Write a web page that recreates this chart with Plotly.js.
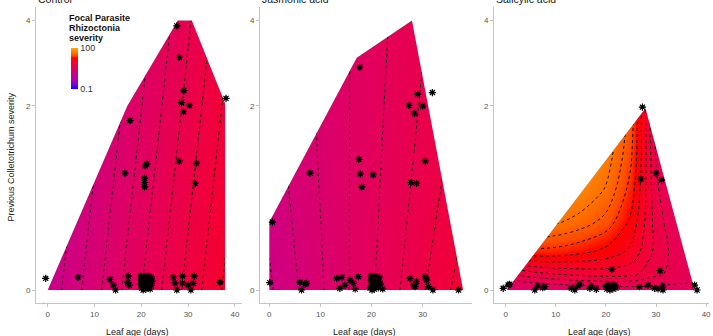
<!DOCTYPE html>
<html>
<head>
<meta charset="utf-8">
<script src="https://cdn.plot.ly/plotly-3.0.1.min.js"></script>
<style>
  html, body { margin: 0; padding: 0; background: #fff; }
  #chart { width: 713px; height: 336px; }
</style>
</head>
<body>
<div id="chart"></div>
<script>
// ---- Facets and tick labels ----
const panelNames = ['Control', 'Jasmonic acid', 'Salicylic acid'];
const xTicks = [0, 10, 20, 30, 40];
const yTicks = [0, 2, 4];
const sevTicks = [0.1, 100];

// ---- Predicted focal severity (log10) over leaf age x previous severity ----
const ctrlAge = [0, 10, 20, 30, 40];
const ctrlPrev = [0, 2, 4];
const ctrlLogSev = [
  [0.130, 0.364, 0.598, 0.832, 1.066],
  [0.029, 0.263, 0.497, 0.731, 0.965],
  [-0.017, 0.217, 0.451, 0.685, 0.919]
];

const jaAge = [0, 10, 20, 30, 40];
const jaPrev = [0, 1, 2, 4];
const jaLogSev = [
  [0.184, 0.386, 0.588, 0.790, 0.992],
  [0.242, 0.407, 0.571, 0.735, 0.900],
  [0.267, 0.415, 0.564, 0.712, 0.860],
  [0.293, 0.424, 0.556, 0.688, 0.820]
];

const saAge = [0, 5, 10, 15, 20, 25, 30, 35, 40];
const saPrev = [0, 0.1, 0.25, 0.5, 0.8, 1.2, 1.6, 2.0, 2.5];
const saLogSev = [
  [0.40, 0.42, 0.45, 0.48, 0.50, 0.52, 0.54, 0.56, 0.58],
  [0.72, 0.80, 0.86, 0.90, 0.92, 0.90, 0.76, 0.66, 0.62],
  [1.20, 1.32, 1.32, 1.27, 1.20, 1.08, 0.82, 0.64, 0.58],
  [1.52, 1.68, 1.66, 1.58, 1.46, 1.22, 0.80, 0.58, 0.52],
  [1.66, 1.78, 1.80, 1.76, 1.62, 1.32, 0.76, 0.52, 0.46],
  [1.72, 1.80, 1.80, 1.80, 1.72, 1.40, 0.72, 0.48, 0.42],
  [1.74, 1.80, 1.80, 1.80, 1.76, 1.44, 0.68, 0.45, 0.40],
  [1.74, 1.80, 1.80, 1.80, 1.78, 1.46, 0.64, 0.43, 0.38],
  [1.74, 1.80, 1.80, 1.80, 1.78, 1.46, 0.64, 0.43, 0.38]
];

// ---- Outline of the region covered by the predictions ----
const ctrlHullAge = [0, 17, 27.8, 30.8, 37.9, 37.9];
const ctrlHullPrev = [0, 2.0, 4.0, 4.0, 2.05, 0];
const jaHullAge = [0, 0, 17.1, 27.9, 37.9];
const jaHullPrev = [0, 0.5, 3.0, 4.0, 0];
const saHullAge = [0.2, 27.9, 37.7];
const saHullPrev = [0, 1.96, 0];

// ---- Observed leaves ----
const ctrlObsAge = [27.6, 28.1, 29.1, 28.6, 30.3, 29.0, 38.1, 17.6, 21.2, 20.8, 16.5, 20.7, 20.7, 20.7, 28.1, 31.8, 31.5,
  -0.43, 6.5, 13.3, 14.0, 14.5, 17.2, 17.1, 17.4,
  19.9, 20.6, 21.4, 22.1, 19.9, 20.8, 21.6, 22.3, 19.9, 20.6, 21.4, 22.1, 20.1, 21.0, 21.9, 20.4, 21.2,
  26.8, 27.2, 27.6, 28.8, 28.8, 30.0, 30.6, 31.3, 31.1, 36.8];
const ctrlObsPrev = [3.84, 3.01, 2.29, 2.06, 2.01, 1.90, 2.14, 1.75, 1.12, 1.10, 1.01, 0.95, 0.90, 0.85, 1.16, 1.13, 0.89,
  0.072, 0.079, 0.066, 0.030, 0.0, 0.087, 0.047, 0.030,
  0.087, 0.087, 0.087, 0.081, 0.061, 0.055, 0.061, 0.055, 0.036, 0.030, 0.036, 0.030, 0.012, 0.006, 0.006, 0.0, 0.018,
  0.079, 0.043, 0.0, 0.087, 0.041, 0.030, 0.0, 0.087, 0.041, 0.047];

const jaObsAge = [17.7, 29.0, 31.9, 27.3, 30.0, 28.4, 8.0, 17.5, 17.8, 20.3, 18.1, 30.5, 27.7, 28.8, 0.6,
  0.1, 6.0, 6.3, 7.3, 7.0, 13.2, 14.2, 13.8, 14.8, 16.4, 16.8, 17.4, 15.8,
  19.9, 20.7, 21.5, 19.9, 20.7, 21.5, 20.1, 20.9, 21.7, 19.7, 20.5, 21.3, 22.2, 20.1,
  27.5, 28.2, 28.8, 28.5, 30.5, 30.8, 31.1, 32.0, 37.0];
const jaObsPrev = [2.78, 2.22, 2.25, 2.01, 2.00, 1.87, 1.01, 1.18, 1.00, 0.99, 0.85, 1.16, 0.90, 0.89, 0.50,
  0.045, 0.047, 0.0, 0.041, 0.036, 0.072, 0.079, 0.010, 0.030, 0.041, 0.006, 0.083, 0.061,
  0.087, 0.087, 0.081, 0.061, 0.055, 0.055, 0.036, 0.030, 0.036, 0.012, 0.006, 0.012, 0.006, 0.0,
  0.072, 0.030, 0.051, 0.020, 0.083, 0.061, 0.020, 0.0, 0.0];

const saObsAge = [27.3, 27.0, 30.0, 31.1, 21.2, 30.8,
  -0.5, 0.5, 0.8, 5.8, 6.4, 7.4, 7.8, 13.1, 13.8, 14.4, 14.8, 16.8, 17.1, 18.1,
  20.0, 20.6, 21.2, 21.8, 20.2, 20.8, 21.4, 22.0,
  26.7, 28.4, 29.7, 30.4, 31.4, 31.3, 37.7, 38.2];
const saObsPrev = [1.98, 0.94, 1.01, 0.93, 0.132, 0.122,
  0.010, 0.030, 0.035, 0.0, 0.026, 0.014, 0.020, 0.010, 0.0, 0.026, 0.035, 0.010, 0.026, 0.004,
  0.024, 0.030, 0.024, 0.030, 0.006, 0.0, 0.006, 0.012,
  0.020, 0.030, 0.010, 0.006, 0.0, 0.026, 0.030, 0.0];

// Contour breaks (log10 severity) for each facet
const contourBreaks = [
  { start: 0.2, end: 1.0, size: 0.1 },
  { start: 0.2, end: 0.9, size: 0.1 },
  { start: 0.6, end: 1.77, size: 0.13 }
];

// ---- Layout geometry ----
const W = 713, H = 336;
const FONT = 'Liberation Sans, Arial, Helvetica, sans-serif';
const panelPx = [[36, 242], [260, 472], [494, 709]];
const xRanges = [[-2.5, 41.52], [-1.82, 39.64], [-2.335, 40.58]];
const yRange = [-0.0776, 1.6896];
const yDomain = [33 / H, 329 / H];

// previous severity is shown on a log(1 + y) axis
const tr = v => Math.log1p(v);

const panelData = [
  { age: ctrlAge, prev: ctrlPrev, z: ctrlLogSev, hx: ctrlHullAge, hy: ctrlHullPrev, ox: ctrlObsAge, oy: ctrlObsPrev },
  { age: jaAge, prev: jaPrev, z: jaLogSev, hx: jaHullAge, hy: jaHullPrev, ox: jaObsAge, oy: jaObsPrev },
  { age: saAge, prev: saPrev, z: saLogSev, hx: saHullAge, hy: saHullPrev, ox: saObsAge, oy: saObsPrev }
];

const sevScale = [
  [0, '#0000ff'], [0.09375, '#7300e0'], [0.1875, '#9a00c2'], [0.28125, '#b500a5'],
  [0.375, '#ca0089'], [0.46875, '#da006c'], [0.5625, '#e8004f'], [0.65625, '#f40031'],
  [0.75, '#ff0000'], [0.8125, '#ff4c00'], [0.875, '#ff6e00'], [0.9375, '#ff8b00'], [1, '#ffa500']
];

const traces = [];
panelData.forEach((p, i) => {
  const xa = i === 0 ? 'x' : 'x' + (i + 1);
  const ya = i === 0 ? 'y' : 'y' + (i + 1);
  const ty = p.prev.map(tr);

  traces.push({
    type: 'heatmap', x: p.age, y: ty, z: p.z, zsmooth: 'best',
    coloraxis: 'coloraxis', xaxis: xa, yaxis: ya, hoverinfo: 'skip'
  });

  traces.push({
    type: 'contour', x: p.age, y: ty, z: p.z, autocontour: false,
    contours: Object.assign({ coloring: 'none', showlabels: false }, contourBreaks[i]),
    line: { color: '#000', width: 0.9, dash: '3px,3px', smoothing: 1 },
    showscale: false, xaxis: xa, yaxis: ya, hoverinfo: 'skip'
  });

  // white cover outside the prediction outline (outer box with the outline as a hole)
  const xr = xRanges[i];
  const X0 = xr[0] - 10, X1 = xr[1] + 10, T0 = -1, T1 = 3;
  const mx = [X0, X1, X1, X0, X0];
  const my = [T0, T0, T1, T1, T0];
  p.hx.forEach((v, k) => { mx.push(v); my.push(tr(p.hy[k])); });
  mx.push(p.hx[0], X0);
  my.push(tr(p.hy[0]), T0);
  traces.push({
    type: 'scatter', mode: 'lines', x: mx, y: my, fill: 'toself',
    fillcolor: '#ffffff', line: { width: 0, color: 'rgba(0,0,0,0)' },
    xaxis: xa, yaxis: ya, hoverinfo: 'skip'
  });

  const oy = p.oy.map(tr);
  traces.push({
    type: 'scatter', mode: 'markers', x: p.ox, y: oy,
    marker: { symbol: 'circle', size: 4, color: '#000', line: { width: 0 } },
    xaxis: xa, yaxis: ya, hoverinfo: 'skip'
  });
  traces.push({
    type: 'scatter', mode: 'markers', x: p.ox, y: oy,
    marker: { symbol: 'asterisk-open', size: 6, color: '#000', line: { width: 1.2, color: '#000' } },
    xaxis: xa, yaxis: ya, hoverinfo: 'skip'
  });
});

const axisStyle = {
  showline: true, linecolor: '#c4c4c4', linewidth: 1,
  ticks: 'outside', ticklen: 3, tickwidth: 1, tickcolor: '#c4c4c4',
  tickfont: { family: FONT, size: 8, color: '#555' },
  showgrid: false, zeroline: false, fixedrange: true
};

const layout = {
  width: W, height: H,
  margin: { l: 0, r: 0, t: 0, b: 0 },
  paper_bgcolor: '#fff', plot_bgcolor: 'rgba(0,0,0,0)',
  showlegend: false,
  font: { family: FONT },
  coloraxis: {
    cmin: Math.log10(sevTicks[0]), cmax: Math.log10(sevTicks[1]),
    colorscale: sevScale,
    colorbar: {
      x: 71 / W, xanchor: 'left', y: (H - 47.5) / H, yanchor: 'top',
      len: 41, lenmode: 'pixels', thickness: 7, thicknessmode: 'pixels',
      xpad: 0, ypad: 0, outlinewidth: 0, borderwidth: 0,
      ticks: '', tickvals: sevTicks.map(v => Math.log10(v)), ticktext: sevTicks.map(String),
      tickfont: { family: FONT, size: 9, color: '#333' }
    }
  },
  annotations: []
};

panelNames.forEach((name, i) => {
  const sfx = i === 0 ? '' : String(i + 1);
  const [a, b] = panelPx[i];
  layout['xaxis' + sfx] = Object.assign({}, axisStyle, {
    domain: [a / W, b / W], range: xRanges[i], anchor: 'y' + sfx,
    tickvals: xTicks, ticktext: xTicks.map(String)
  });
  layout['yaxis' + sfx] = Object.assign({}, axisStyle, {
    domain: yDomain, range: yRange, anchor: 'x' + sfx,
    tickvals: yTicks.map(tr), ticktext: yTicks.map(String)
  });
  // facet title
  layout.annotations.push({
    xref: 'paper', yref: 'paper', x: a / W, y: (H - 6.5) / H,
    xanchor: 'left', yanchor: 'bottom', showarrow: false, text: name,
    font: { family: FONT, size: 10.5, color: '#1a1a1a' }
  });
  // x axis title
  layout.annotations.push({
    xref: 'paper', yref: 'paper', x: ((a + b) / 2 - 2) / W, y: (H - 331.7) / H,
    xanchor: 'center', yanchor: 'middle', showarrow: false, text: 'Leaf age (days)',
    font: { family: FONT, size: 9, color: '#222' }
  });
});

// y axis title
layout.annotations.push({
  xref: 'paper', yref: 'paper', x: 10.5 / W, y: (H - 157) / H,
  xanchor: 'center', yanchor: 'middle', textangle: -90, showarrow: false,
  text: 'Previous Colletotrichum severity',
  font: { family: FONT, size: 9, color: '#222' }
});

// colour bar title
['Focal Parasite', 'Rhizoctonia', 'severity'].forEach((line, k) => {
  layout.annotations.push({
    xref: 'paper', yref: 'paper', x: 67 / W, y: (H - (18 + 10 * k)) / H,
    xanchor: 'left', yanchor: 'middle', showarrow: false, text: '<b>' + line + '</b>',
    font: { family: FONT, size: 9, color: '#111' }
  });
});

Plotly.newPlot('chart', traces, layout, { staticPlot: true, displayModeBar: false });
</script>
</body>
</html>
